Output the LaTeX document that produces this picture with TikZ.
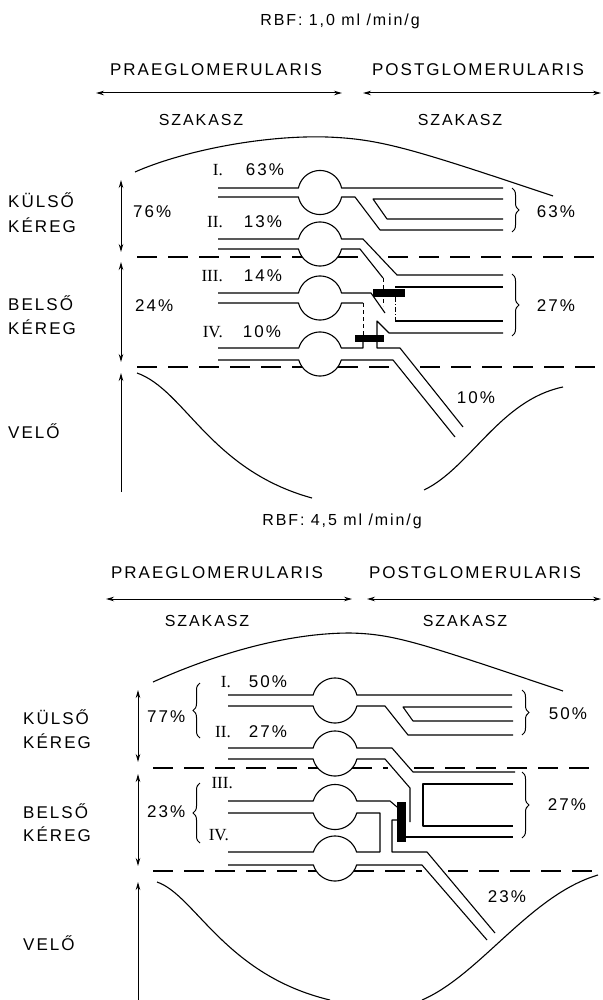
\documentclass[tikz,border=0pt]{standalone}
\usepackage{fontspec}
\setmainfont{Liberation Sans}[LetterSpace=12]
\newfontfamily\rom{Liberation Serif}
\usetikzlibrary{arrows.meta,decorations.pathreplacing}
\newcommand\glom[7]{% cx, cy, half gap, radius, left x, top continuation, bottom continuation
  \pgfmathsetmacro\gA{asin(#3/#4)}%
  \pgfmathsetmacro\gB{180-\gA}%
  \draw[ln] (#5,#2-#3) -- plot[domain=\gA:\gB,samples=36] ({#1-#4*cos(\x)},{#2-#4*sin(\x)}) #6;
  \draw[ln] (#5,#2+#3) -- plot[domain=\gA:\gB,samples=36] ({#1-#4*cos(\x)},{#2+#4*sin(\x)}) #7;
}
\tikzset{
  ln/.style={line width=1.1pt, line join=round},
  dsh/.style={line width=1.1pt, dash pattern=on 20pt off 11pt},
  vd/.style={line width=0.9pt, dash pattern=on 4pt off 3pt},
  dd/.style={line width=0.9pt, dash pattern=on 5pt off 2pt on 1pt off 2pt},
  txt/.style={font=\fontsize{17}{17}\selectfont, inner sep=0pt},
  txtm/.style={font=\fontsize{16}{16}\selectfont, inner sep=0pt},
  rtxt/.style={font=\rom\fontsize{17}{17}\selectfont, inner sep=0pt},
  arr/.style={line width=1pt, {Stealth[length=8pt,width=4.5pt]}-{Stealth[length=8pt,width=4.5pt]}},
  uarr/.style={line width=1pt, -{Stealth[length=8pt,width=4.5pt]}},
  brc/.style={line width=1pt, decorate, decoration={brace, amplitude=7pt}},
  bar/.style={fill=black}
}
\begin{document}
\begin{tikzpicture}[x=1pt,y=-1pt]
\useasboundingbox (0,0) rectangle (602,1000);

%================ TOP PANEL ================
\node[txtm] (rbfA) at (340,21) {RBF: 1,0 ml /min/g};
\node[txt] (praeA) at (216,70) {PRAEGLOMERULARIS};
\node[txt] (postA) at (478,70) {POSTGLOMERULARIS};
\coordinate (paA1) at (96,93); \coordinate (paA2) at (342,93);
\coordinate (pbA1) at (363,93); \coordinate (pbA2) at (601,93);
\draw[arr] (paA1) -- (paA2);
\draw[arr] (pbA1) -- (pbA2);
\node[txtm] (szA1) at (201,120) {SZAKASZ};
\node[txtm] (szA2) at (460,120) {SZAKASZ};

% left labels
\node[txt,anchor=west] (kulA) at (8,200) {KÜLSŐ};
\node[txt,anchor=west] (kerA1) at (8,225) {KÉREG};
\node[txt,anchor=west] (belA) at (8,303) {BELSŐ};
\node[txt,anchor=west] (kerA2) at (8,327) {KÉREG};
\node[txt,anchor=west] (velA) at (8,431) {VELŐ};
\node[txt,anchor=west] (p76) at (133,212) {76\%};
\node[txt,anchor=west] (p24) at (135,306) {24\%};
\coordinate (laA1) at (121,180); \coordinate (laA2) at (121,252);
\coordinate (lbA1) at (121,262); \coordinate (lbA2) at (121,362);
\coordinate (lcA1) at (121,492); \coordinate (lcA2) at (121,373);
\draw[arr] (laA1) -- (laA2);
\draw[arr] (lbA1) -- (lbA2);
\draw[uarr] (lcA1) -- (lcA2);

% dome and medulla
\draw[line width=1.1pt] (135,172) .. controls (180,152) and (260,135) .. (327,137)
   .. controls (380,139) and (410,148) .. (553,196);
\draw[line width=1.1pt] (137,373) .. controls (185,390) and (210,470) .. (312,498);
\draw[line width=1.1pt] (424,490) .. controls (470,468) and (500,400) .. (563,387);

% row labels
\node[rtxt,anchor=east] (rIA) at (223,170) {I.};
\node[txt] (q63) at (265,170) {63\%};
\node[rtxt,anchor=east] (rIIA) at (223,222) {II.};
\node[txt] (q13) at (263,222) {13\%};
\node[rtxt,anchor=east] (rIIIA) at (223,276) {III.};
\node[txt] (q14) at (263,276) {14\%};
\node[rtxt,anchor=east] (rIVA) at (223,332) {IV.};
\node[txt] (q10) at (262,332) {10\%};

% vessels
\glom{320}{192.5}{4.5}{22}{218}{-- (503,188)}{-- (355,197) -- (380,230) -- (503,230)}
\draw[ln] (503,199) -- (373,199) -- (387,219) -- (503,219);
\glom{320}{244}{5}{22}{218}{-- (363,239) -- (397,275) -- (503,275)}{-- (360,249) -- (383,278)}
\draw[vd] (383,278) -- (383,306);
\glom{320}{298}{5}{22}{218}{-- (371,293) -- (385,313)}{-- (363,303)}
\draw[vd] (363,303) -- (363,336);
\draw[ln] (503,287) -- (395,287);
\draw[dd] (395,297) -- (395,321);
\draw[ln] (395,321) -- (503,321);
\draw[ln] (377,336) -- (377,321) -- (389,333) -- (503,333);
\glom{320}{354}{6}{22}{218}{-- (363,348) -- (363,342)}{-- (393,360) -- (455,437)}
\draw[ln] (377,342) -- (377,348) -- (400,348) -- (463,427);
\fill[bar] (373,289) rectangle (405,297);
\fill[bar] (355,335) rectangle (384,342);

% boundaries
\draw[dsh] (137,257) -- (302,257);
\draw[dsh] (338,257) -- (364,257);
\draw[dsh] (388,257) -- (598,257);
\draw[dsh] (137,367) -- (302,367);
\draw[dsh] (338,367) -- (394,367);
\draw[dsh] (420,367) -- (598,367);

% braces
\draw[brc] (512,188) -- (512,232);
\node[txt] (s63) at (556,212) {63\%};
\draw[brc] (512,274) -- (512,336);
\node[txt] (s27A) at (556,306) {27\%};
\node[txt] (s10) at (476,398) {10\%};

%================ BOTTOM PANEL ================
\node[txtm] (rbfB) at (342,521) {RBF: 4,5 ml /min/g};
\node[txt] (praeB) at (217,573) {PRAEGLOMERULARIS};
\node[txt] (postB) at (475,573) {POSTGLOMERULARIS};
\coordinate (paB1) at (106,599); \coordinate (paB2) at (352,599);
\coordinate (pbB1) at (367,599); \coordinate (pbB2) at (601,599);
\draw[arr] (paB1) -- (paB2);
\draw[arr] (pbB1) -- (pbB2);
\node[txtm] (szB1) at (207,621) {SZAKASZ};
\node[txtm] (szB2) at (465,621) {SZAKASZ};

\node[txt,anchor=west] (kulB) at (23,717) {KÜLSŐ};
\node[txt,anchor=west] (kerB1) at (23,741) {KÉREG};
\node[txt,anchor=west] (belB) at (23,811) {BELSŐ};
\node[txt,anchor=west] (kerB2) at (23,834) {KÉREG};
\node[txt,anchor=west] (velB) at (23,943) {VELŐ};
\node[txt,anchor=west] (p77) at (147,717) {77\%};
\node[txt,anchor=west] (p23) at (147,812) {23\%};
\coordinate (laB1) at (138,690); \coordinate (laB2) at (138,762);
\coordinate (lbB1) at (138,774); \coordinate (lbB2) at (138,866);
\coordinate (lcB1) at (138,1000); \coordinate (lcB2) at (138,882);
\draw[arr] (laB1) -- (laB2);
\draw[arr] (lbB1) -- (lbB2);
\draw[uarr] (lcB1) -- (lcB2);
\draw[brc] (200,738) -- (200,683);
\draw[brc] (200,843) -- (200,783);

\draw[line width=1.1pt] (153,682) .. controls (220,652) and (290,633) .. (350,633)
   .. controls (395,634) and (420,643) .. (563,691);
\draw[line width=1.1pt] (157,882) .. controls (195,895) and (225,975) .. (330,1000);
\draw[line width=1.1pt] (422,1000) .. controls (480,975) and (530,895) .. (598,875);

\node[rtxt,anchor=east] (rIB) at (231,682) {I.};
\node[txt] (q50) at (268,682) {50\%};
\node[rtxt,anchor=east] (rIIB) at (231,732) {II.};
\node[txt] (q27) at (268,732) {27\%};
\node[rtxt,anchor=east] (rIIIB) at (233,783) {III.};
\node[rtxt,anchor=east] (rIVB) at (229,835) {IV.};

\glom{335}{700.5}{5.5}{22.5}{228}{-- (512,695)}{-- (385,706) -- (408,735) -- (513,735)}
\draw[ln] (512,707) -- (403,707) -- (413,721) -- (513,721);
\glom{335}{753.5}{5.5}{22.5}{228}{-- (392,748) -- (413,772) -- (515,772)}{-- (385,759) -- (410,788) -- (410,822)}
\glom{335}{807}{6}{22.5}{228}{-- (390,801) -- (397,807)}{-- (380,813) -- (380,852)}
\draw[ln] (513,784) -- (423,784) -- (423,826) -- (513,826);
\draw[ln] (406,837) -- (513,837);
\glom{335}{858.5}{6.5}{22.5}{228}{-- (380,852)}{-- (422,865) -- (487,940)}
\draw[ln] (397,820) -- (392,820) -- (392,852) -- (427,852) -- (495,933);
\fill[bar] (397,802) rectangle (406,842);

\draw[dsh] (153,768) -- (318,768);
\draw[dsh] (352,768) -- (388,768);
\draw[dsh] (414,768) -- (598,768);
\draw[dsh] (153,871) -- (316,871);
\draw[dsh] (354,871) -- (422,871);
\draw[dsh] (448,871) -- (598,871);

\draw[brc] (522,690) -- (522,735);
\node[txt] (s50) at (568,714) {50\%};
\draw[brc] (522,772) -- (522,838);
\node[txt] (s27B) at (567,805) {27\%};
\node[txt] (s23) at (507,897) {23\%};
\end{tikzpicture}
\end{document}
